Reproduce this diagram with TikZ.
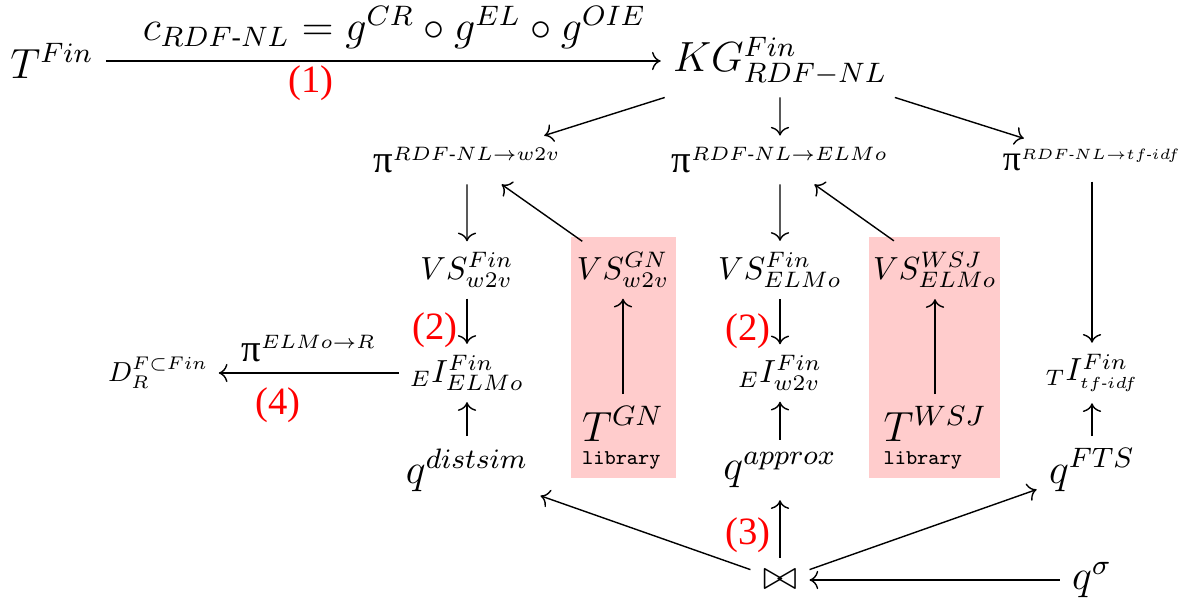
\documentclass[tikz,border=0pt]{standalone}
\usepackage{amsmath,amssymb}
\usepackage{fontspec}
\IfFontExistsTF{LiberationSerif-Regular.ttf}
  {\setmainfont{LiberationSerif-Regular.ttf}}
  {\setmainfont{Liberation Serif}}
\usetikzlibrary{arrows.meta,positioning}

\newcommand{\hy}{\text{-}}
\newcommand{\prj}{\text{\large π}}
\newcommand{\libtag}{{\fontsize{6}{7}\selectfont\ttfamily library}}

\begin{document}
\begin{tikzpicture}[
  big/.style={font=\large},
  mid/.style={font=\normalsize, scale=0.91},
  sml/.style={font=\small, scale=0.92},
  num/.style={text=red, inner sep=1pt, font=\fontsize{11}{13}\selectfont},
  lib/.style={fill=red!20},
]
\useasboundingbox (0,0) rectangle (11.8,-6);

% Library boxes
\fill[lib] (5.71,-2.37) rectangle (6.76,-4.78);
\fill[lib] (8.69,-2.37) rectangle (10.00,-4.78);

% Top row
\node[big] (tfin) at (0.52,-0.61) {$T^{Fin}$};
\node[big] (kg) at (7.80,-0.61) {$KG^{Fin}_{RDF-NL}$};

% Projections
\node[sml] (piw) at (4.67,-1.60) {$\prj^{RDF\hy NL\to w2v}$};
\node[sml] (pie) at (7.80,-1.60) {$\prj^{RDF\hy NL\to ELMo}$};
\node[font=\small, scale=0.85] (pit) at (10.92,-1.60) {$\prj^{\scriptscriptstyle RDF\hy NL\to tf\hy idf}$};

% Vector spaces
\node[mid] (vsw) at (4.67,-2.70) {$VS^{Fin}_{w2v}$};
\node[mid] (vsgn) at (6.23,-2.70) {$VS^{GN}_{w2v}$};
\node[mid] (vse) at (7.80,-2.70) {$VS^{Fin}_{ELMo}$};
\node[mid] (vswsj) at (9.35,-2.70) {$VS^{WSJ}_{ELMo}$};

% Indexes
\node[mid] (ie) at (4.67,-3.73) {${}_EI^{Fin}_{ELMo}$};
\node[mid] (iw) at (7.80,-3.73) {${}_EI^{Fin}_{w2v}$};
\node[mid] (it) at (10.92,-3.73) {${}_TI^{Fin}_{\scriptscriptstyle tf\hy idf}$};
\node[font=\small, scale=0.87] (d) at (1.58,-3.73) {$D^{F\subset Fin}_R$};

% Library corpora
\node[big] (tgn) at (6.23,-4.38) {\shortstack[l]{$T^{GN}$\\\libtag}};
\node[big] (twsj) at (9.35,-4.38) {\shortstack[l]{$T^{WSJ}$\\\libtag}};

% Queries
\node[big] (qd) at (4.67,-4.70) {$q^{distsim}$};
\node[big] (qa) at (7.80,-4.70) {$q^{approx}$};
\node[big] (qf) at (10.92,-4.70) {$q^{FTS}$};
\node[big] (join) at (7.80,-5.80) {$\bowtie$};
\node[big] (qs) at (10.92,-5.80) {$q^\sigma$};

% Arrows
\draw[->] (tfin) -- node[above,big,pos=0.52]{$c_{RDF\hy NL}=g^{CR}\circ g^{EL}\circ g^{OIE}$}
  node[num,below,pos=0.37]{(1)} (kg);
\draw[->] (kg) -- (piw);
\draw[->] (kg) -- (pie);
\draw[->] (kg) -- (pit);
\draw[->] (piw) -- (vsw);
\draw[->] (vsgn) -- (piw);
\draw[->] (pie) -- (vse);
\draw[->] (vswsj) -- (pie);
\draw[->] (pit) -- (it);
\draw[->] (vsw) -- node[num,left=1.5pt,pos=0.7]{(2)} (ie);
\draw[->] (vse) -- node[num,left=1.5pt,pos=0.7]{(2)} (iw);
\draw[->] (tgn) -- (vsgn);
\draw[->] (twsj) -- (vswsj);
\draw[->] (ie) -- node[above,sml]{$\prj^{ELMo\to R}$}
  node[num,below=3pt,pos=0.67]{(4)} (d);
\draw[->] (qd) -- (ie);
\draw[->] (qa) -- (iw);
\draw[->] (qf) -- (it);
\draw[->] (join) -- (qd);
\draw[->] (join) -- node[num,left=1.5pt,pos=0.4]{(3)} (qa);
\draw[->] (join) -- (qf);
\draw[->] (qs) -- (join);

\end{tikzpicture}
\end{document}
